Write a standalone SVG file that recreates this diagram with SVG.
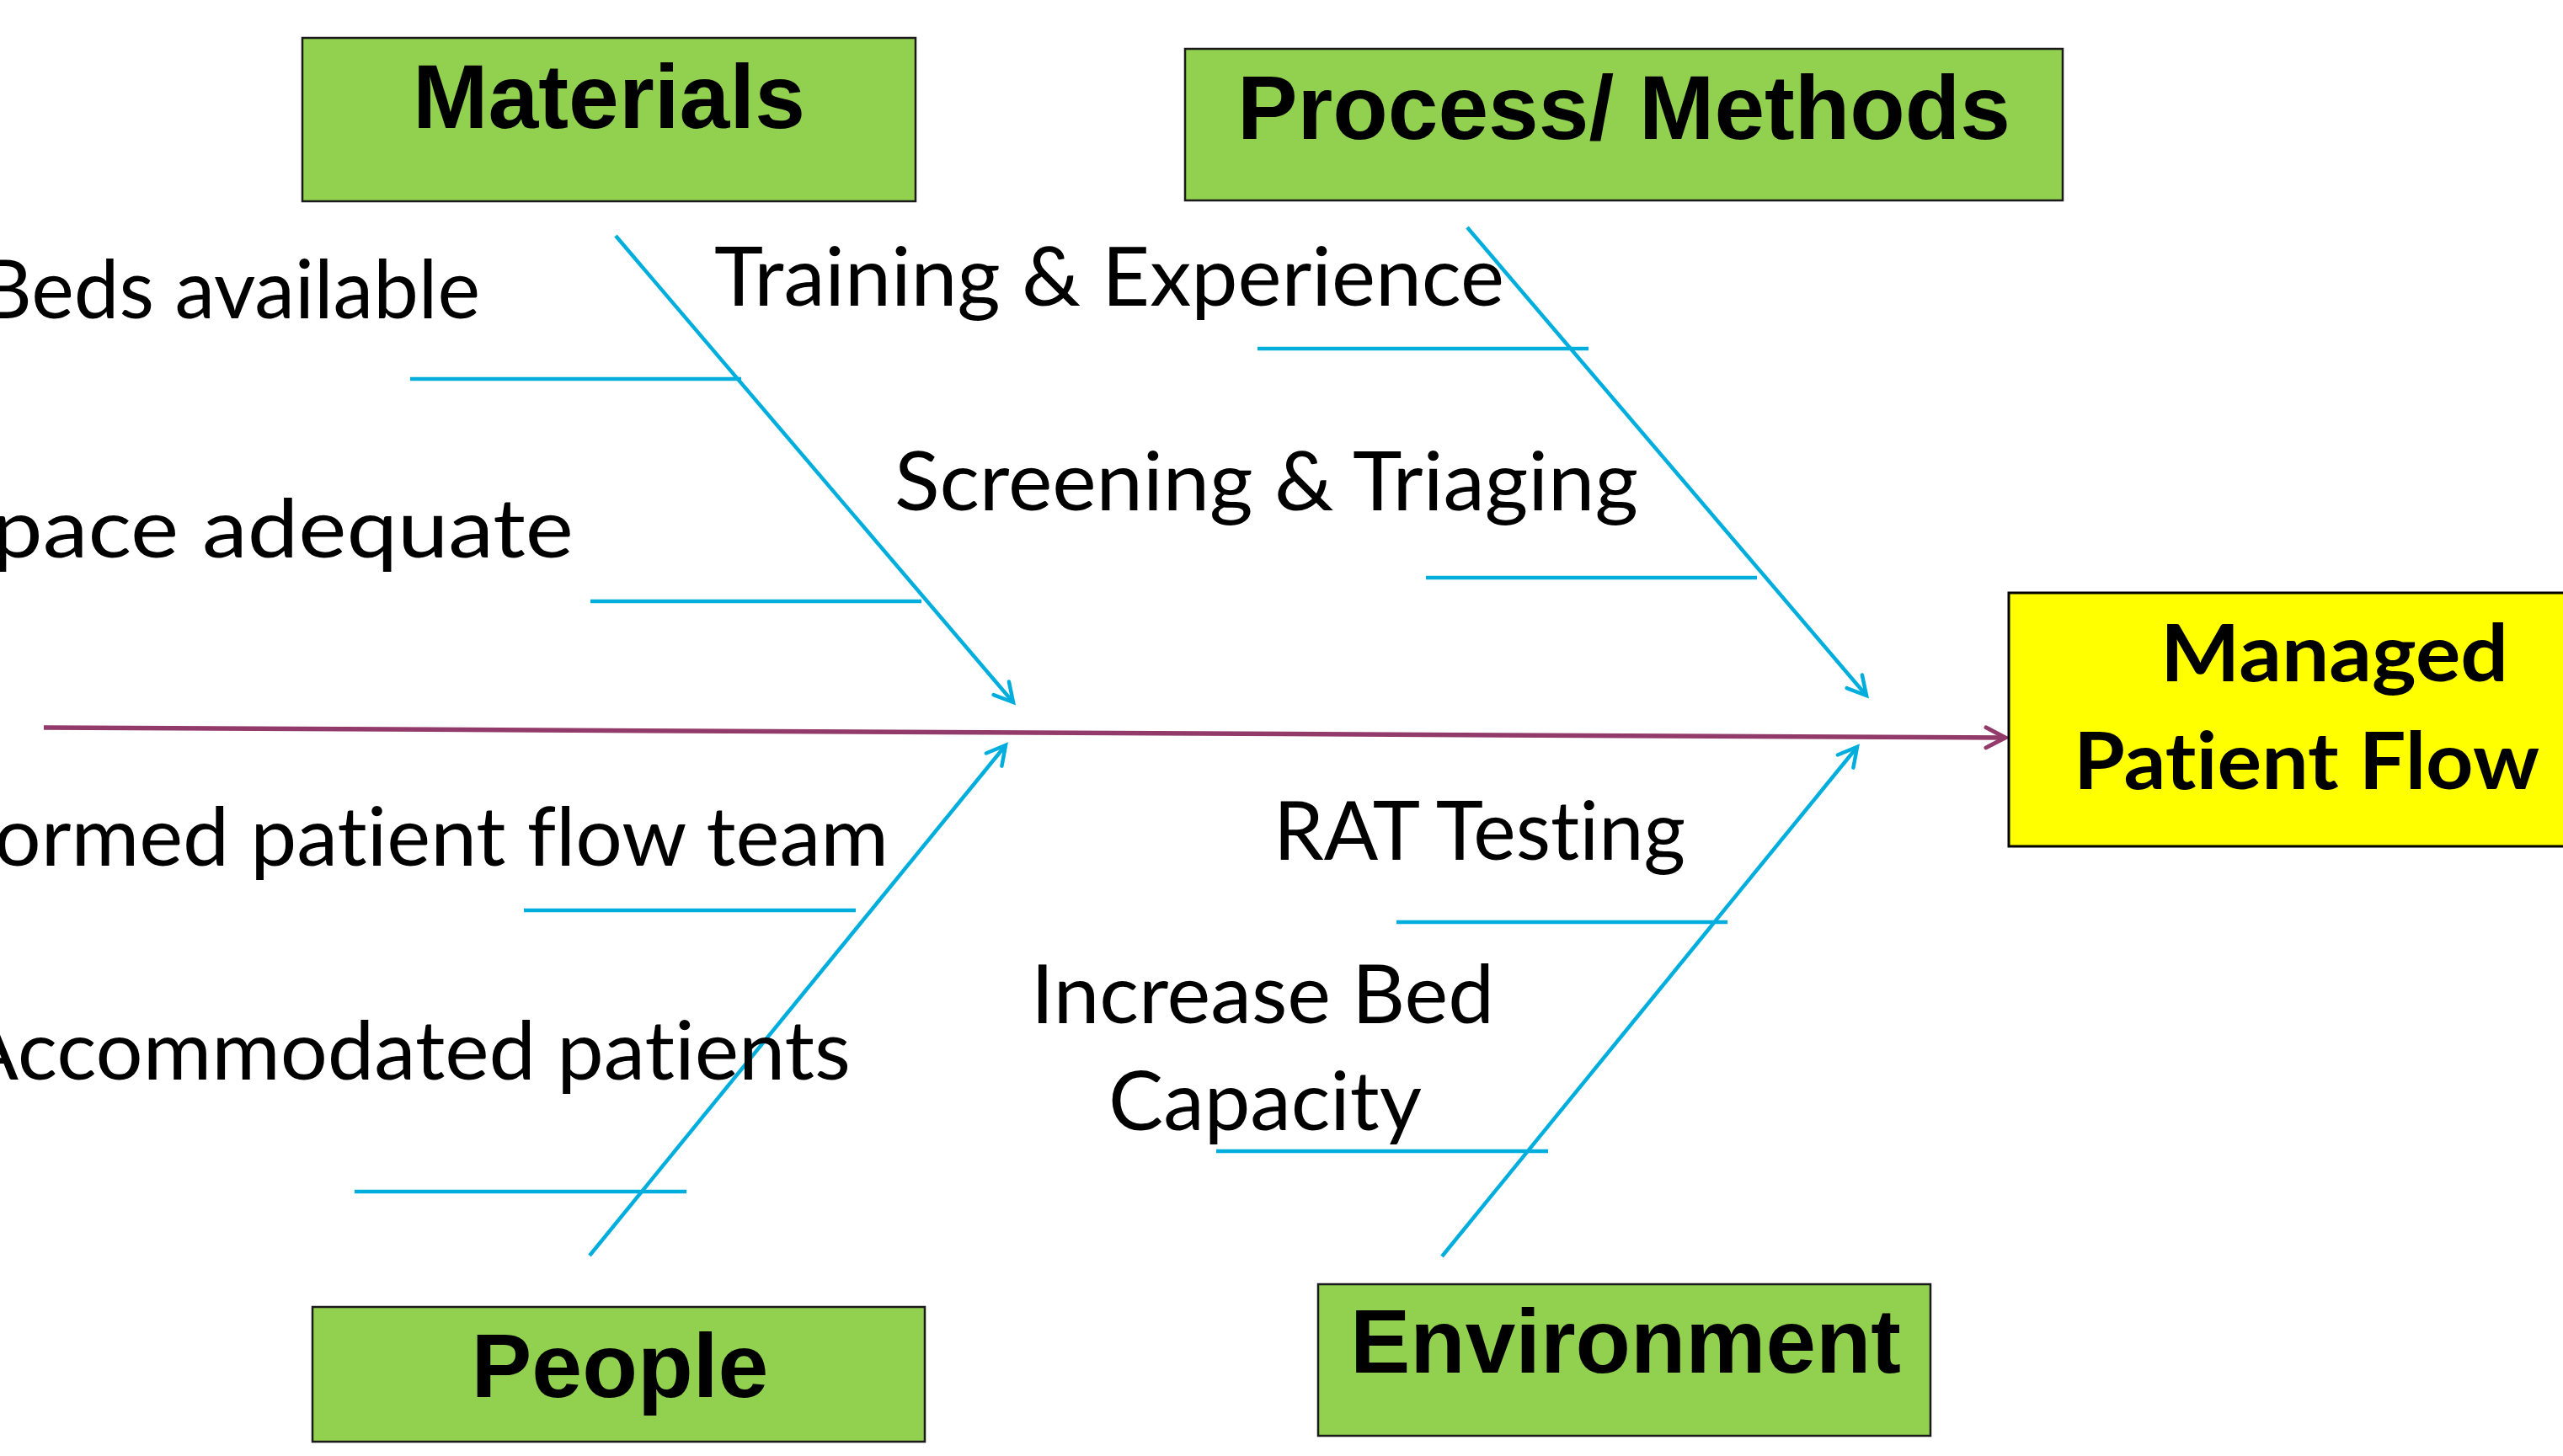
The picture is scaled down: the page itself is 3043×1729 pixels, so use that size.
<svg xmlns="http://www.w3.org/2000/svg" width="3043" height="1729" viewBox="0 0 3043 1729">
  <style>
    .cat rect { fill: #92D050; stroke: #1a1a1a; stroke-width: 2.5; }
    .cat text { font-family: "Liberation Sans", Arial, sans-serif; font-weight: bold; font-size: 108px; fill: #000; text-anchor: middle; }
    .cause { font-family: Lato, "Open Sans", sans-serif; font-size: 96px; fill: #000; font-variant-ligatures: none; }
    .effect rect { fill: #FFFF00; stroke: #000; stroke-width: 3; }
    .effect text { font-family: Lato, "Open Sans", sans-serif; font-weight: bold; font-size: 93px; fill: #000; font-variant-ligatures: none; }
    .spine { stroke: #923A6A; stroke-width: 5.5; fill: none; }
    .branch { stroke: #00AEDE; stroke-width: 4.5; fill: none; }
    .bone { stroke: #00AEDE; stroke-width: 4.5; fill: none; }
  </style>
  <defs>
    <marker id="arrow-blue" markerUnits="userSpaceOnUse" viewBox="-30 -20 40 40" refX="0" refY="0" markerWidth="40" markerHeight="40" orient="auto">
      <path d="M-22,-12 L0,0 L-22,12" fill="none" stroke="#00AEDE" stroke-width="4.5" stroke-linecap="round"/>
    </marker>
    <marker id="arrow-purple" markerUnits="userSpaceOnUse" viewBox="-30 -20 40 40" refX="0" refY="0" markerWidth="40" markerHeight="40" orient="auto">
      <path d="M-23,-12 L0,0 L-23,12" fill="none" stroke="#923A6A" stroke-width="5" stroke-linecap="round"/>
    </marker>
  </defs>

  <rect x="0" y="0" width="3043" height="1729" fill="#FFFFFF"/>

  <!-- spine, category branches and cause bones -->
  <g id="connectors">
    <line class="spine" x1="52" y1="864" x2="2381" y2="876" marker-end="url(#arrow-purple)"/>

    <line class="branch" x1="731" y1="280" x2="1203" y2="834" marker-end="url(#arrow-blue)"/>
    <line class="branch" x1="1742" y1="270" x2="2216" y2="826" marker-end="url(#arrow-blue)"/>
    <line class="branch" x1="700" y1="1491" x2="1194" y2="885" marker-end="url(#arrow-blue)"/>
    <line class="branch" x1="1712" y1="1492" x2="2205" y2="887" marker-end="url(#arrow-blue)"/>

    <line class="bone" x1="487" y1="450" x2="880" y2="450"/>
    <line class="bone" x1="701" y1="714" x2="1094" y2="714"/>
    <line class="bone" x1="1493" y1="414" x2="1886" y2="414"/>
    <line class="bone" x1="1693" y1="686" x2="2086" y2="686"/>
    <line class="bone" x1="622" y1="1081" x2="1016" y2="1081"/>
    <line class="bone" x1="421" y1="1415" x2="815" y2="1415"/>
    <line class="bone" x1="1658" y1="1095" x2="2051" y2="1095"/>
    <line class="bone" x1="1444" y1="1367" x2="1838" y2="1367"/>
  </g>

  <!-- category boxes -->
  <g id="materials" class="cat">
    <rect x="359" y="45" width="728" height="194"/>
    <text x="723" y="152" textLength="466" lengthAdjust="spacingAndGlyphs">Materials</text>
  </g>
  <g id="process-methods" class="cat">
    <rect x="1407" y="58" width="1042" height="180"/>
    <text x="1928" y="165" textLength="918" lengthAdjust="spacingAndGlyphs">Process/ Methods</text>
  </g>
  <g id="people" class="cat">
    <rect x="371" y="1552" width="727" height="160"/>
    <text x="736" y="1659" textLength="353" lengthAdjust="spacingAndGlyphs">People</text>
  </g>
  <g id="environment" class="cat">
    <rect x="1565" y="1525" width="727" height="180"/>
    <text x="1930" y="1630" textLength="654" lengthAdjust="spacingAndGlyphs">Environment</text>
  </g>

  <!-- effect -->
  <g id="managed-patient-flow" class="effect">
    <rect x="2385" y="704" width="700" height="301"/>
    <text x="2565" y="809" textLength="413" lengthAdjust="spacingAndGlyphs">Managed</text>
    <text x="2462" y="937" textLength="553" lengthAdjust="spacingAndGlyphs">Patient Flow</text>
  </g>

  <!-- causes -->
  <g id="cause-beds">
    <text class="cause" x="570" y="378" text-anchor="end" textLength="594" lengthAdjust="spacingAndGlyphs">Beds available</text>
  </g>
  <g id="cause-space">
    <text class="cause" x="681" y="662" text-anchor="end" textLength="691" lengthAdjust="spacingAndGlyphs">pace adequate</text>
  </g>
  <g id="cause-training">
    <text class="cause" x="848" y="363" textLength="938" lengthAdjust="spacingAndGlyphs">Training &amp; Experience</text>
  </g>
  <g id="cause-screening">
    <text class="cause" x="1062" y="606" textLength="883" lengthAdjust="spacingAndGlyphs">Screening &amp; Triaging</text>
  </g>
  <g id="cause-team">
    <text class="cause" x="1055" y="1028" text-anchor="end" textLength="1062" lengthAdjust="spacingAndGlyphs">ormed patient flow team</text>
  </g>
  <g id="cause-accommodated">
    <text class="cause" x="1010" y="1282" text-anchor="end" textLength="1055" lengthAdjust="spacingAndGlyphs">Accommodated patients</text>
  </g>
  <g id="cause-rat">
    <text class="cause" x="1512" y="1021" textLength="489" lengthAdjust="spacingAndGlyphs">RAT Testing</text>
  </g>
  <g id="cause-bed-capacity">
    <text class="cause" x="1224" y="1215" textLength="550" lengthAdjust="spacingAndGlyphs">Increase Bed</text>
    <text class="cause" x="1316" y="1342" textLength="372" lengthAdjust="spacingAndGlyphs">Capacity</text>
  </g>
</svg>
